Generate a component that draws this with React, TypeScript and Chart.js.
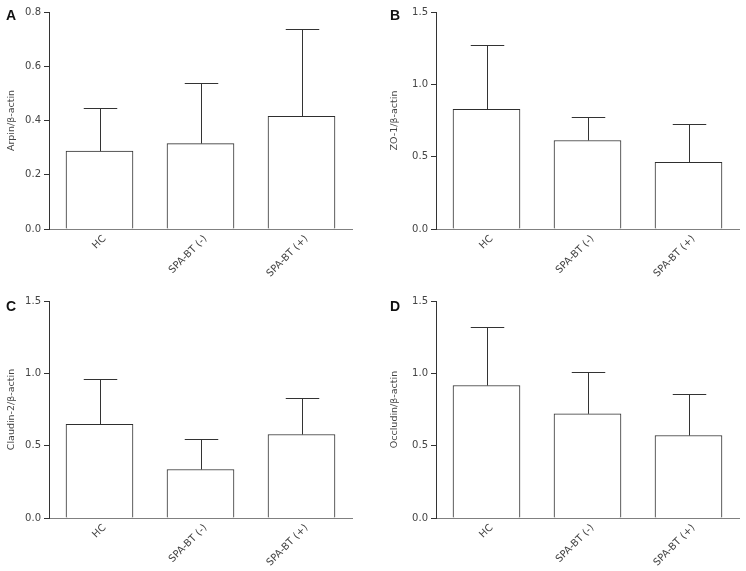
import React, { useEffect, useRef } from "react";
import { Chart, registerables } from "chart.js";

Chart.register(...registerables);

const categories = ["HC", "SPA-BT (-)", "SPA-BT (+)"];

const arpinMean = [0.287, 0.315, 0.415];
const arpinSD = [0.158, 0.222, 0.322];

const zo1Mean = [0.828, 0.612, 0.46];
const zo1SD = [0.447, 0.161, 0.267];

const claudinMean = [0.647, 0.335, 0.577];
const claudinSD = [0.311, 0.208, 0.254];

const occludinMean = [0.916, 0.72, 0.57];
const occludinSD = [0.404, 0.29, 0.288];

const FONT = "'DejaVu Sans', sans-serif";

const errorBarPlugin = {
  id: "errorBars",
  afterDatasetsDraw(chart: any, _args: any, opts: any) {
    const errs: number[] = opts.errors || [];
    const ds = chart.data.datasets[0];
    const meta = chart.getDatasetMeta(0);
    const ctx = chart.ctx;
    const ys = chart.scales.y;
    ctx.save();
    ctx.strokeStyle = "#333333";
    ctx.lineWidth = 1;
    meta.data.forEach((el: any, i: number) => {
      const p = el.getProps(["x", "y", "width"], true);
      const top = Math.round(ys.getPixelForValue(ds.data[i] + errs[i])) + 0.5;
      const cx = Math.round(p.x) + 0.5;
      const half = p.width / 4;
      ctx.beginPath();
      ctx.moveTo(cx, p.y);
      ctx.lineTo(cx, top);
      ctx.moveTo(cx - half, top);
      ctx.lineTo(cx + half, top);
      ctx.stroke();
    });
    ctx.restore();
  },
};

type PanelProps = {
  letter: string;
  title: string;
  means: number[];
  sds: number[];
  max: number;
  step: number;
  left: number;
  top: number;
  width: number;
  height: number;
  area: { l: number; t: number; r: number; b: number };
  titlePad: number;
};

function Panel(props: PanelProps) {
  const ref = useRef<HTMLCanvasElement | null>(null);
  useEffect(() => {
    if (!ref.current) return;
    const { area, width, height } = props;
    const chart = new Chart(ref.current, {
      type: "bar",
      data: {
        labels: categories,
        datasets: [
          {
            data: props.means,
            backgroundColor: "#ffffff",
            borderColor: "#2e2e2e",
            borderWidth: 1,
            barThickness: 67,
          },
        ],
      },
      plugins: [errorBarPlugin],
      options: {
        animation: false,
        responsive: false,
        maintainAspectRatio: false,
        layout: { padding: { top: area.t, right: width - area.r, left: 0, bottom: 0 } },
        plugins: {
          legend: { display: false },
          tooltip: { enabled: false },
          errorBars: { errors: props.sds },
        } as any,
        scales: {
          x: {
            offset: true,
            grid: { display: false },
            border: { display: true, color: "#808080", width: 1 },
            ticks: {
              color: "#444444",
              font: { family: FONT, size: 10 },
              minRotation: 45,
              maxRotation: 45,
              padding: -4,
              labelOffset: 5,
            },
            afterFit: (s: any) => {
              s.height = height - area.b;
            },
          },
          y: {
            min: 0,
            max: props.max,
            grid: { drawOnChartArea: false, drawTicks: true, tickLength: 5, color: "#333333" },
            border: { display: true, color: "#333333", width: 1 },
            ticks: {
              stepSize: props.step,
              color: "#444444",
              font: { family: FONT, size: 10 },
              padding: 3,
              callback: (v: any) => Number(v).toFixed(1),
            },
            title: {
              display: true,
              text: props.title,
              color: "#444444",
              font: { family: FONT, size: 9.5 },
              padding: { top: props.titlePad, bottom: 0 },
            },
            afterFit: (s: any) => {
              s.width = area.l;
            },
          },
        },
      } as any,
    });
    return () => chart.destroy();
  }, []);
  return (
    <div style={{ position: "absolute", left: props.left, top: props.top, width: props.width, height: props.height }}>
      <canvas ref={ref} width={props.width} height={props.height} style={{ width: props.width, height: props.height, display: "block" }} />
      <div
        style={{
          position: "absolute",
          left: props.letter === "A" || props.letter === "C" ? 6 : 17,
          top: props.letter === "A" || props.letter === "B" ? 7 : 13,
          fontFamily: "'Liberation Sans', Arial, sans-serif",
          fontWeight: "bold",
          fontSize: 14,
          lineHeight: "16px",
          color: "#111",
        }}
      >
        {props.letter}
      </div>
    </div>
  );
}

export default function App() {
  return (
    <div style={{ position: "absolute", left: 0, top: 0, width: 746, height: 571, background: "#fff" }}>
      <Panel letter="A" title="Arpin/β-actin" means={arpinMean} sds={arpinSD} max={0.8} step={0.2}
        left={0} top={0} width={373} height={285} area={{ l: 49, t: 12, r: 352, b: 229 }} titlePad={6} />
      <Panel letter="B" title="ZO-1/β-actin" means={zo1Mean} sds={zo1SD} max={1.5} step={0.5}
        left={373} top={0} width={373} height={285} area={{ l: 63, t: 12, r: 366, b: 229 }} titlePad={16} />
      <Panel letter="C" title="Claudin-2/β-actin" means={claudinMean} sds={claudinSD} max={1.5} step={0.5}
        left={0} top={285} width={373} height={286} area={{ l: 49, t: 16, r: 352, b: 233 }} titlePad={6} />
      <Panel letter="D" title="Occludin/β-actin" means={occludinMean} sds={occludinSD} max={1.5} step={0.5}
        left={373} top={285} width={373} height={286} area={{ l: 63, t: 16, r: 366, b: 233 }} titlePad={16} />
    </div>
  );
}
